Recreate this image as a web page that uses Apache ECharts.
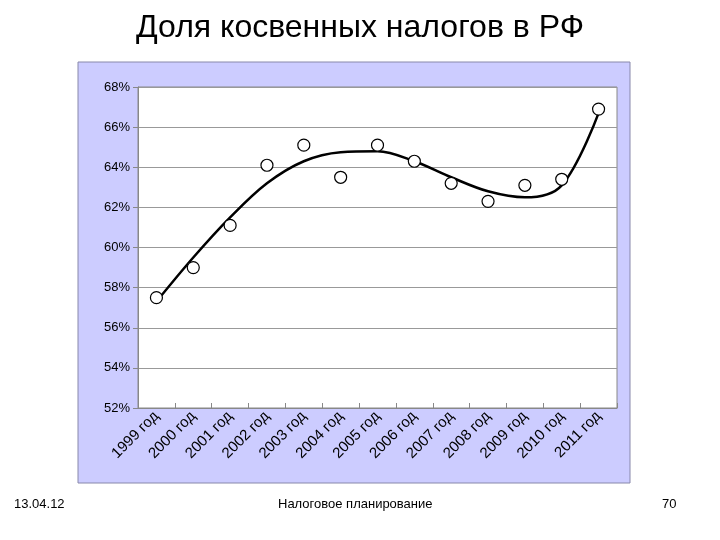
<!DOCTYPE html>
<html><head><meta charset="utf-8">
<script src="https://cdn.jsdelivr.net/npm/echarts@6/dist/echarts.min.js"></script>
<style>body{margin:0;background:#fff}#chart{width:720px;height:540px}</style>
</head><body><div id="chart"></div>
<script>
const years = ['1999 год','2000 год','2001 год','2002 год','2003 год','2004 год','2005 год','2006 год','2007 год','2008 год','2009 год','2010 год','2011 год'];
const shares = [57.5, 59.0, 61.1, 64.1, 65.1, 63.5, 65.1, 64.3, 63.2, 62.3, 63.1, 63.4, 66.9];
const trend = [57.3, 59.5, 61.5, 63.2, 64.3, 64.75, 64.8, 64.3, 63.5, 62.8, 62.5, 63.1, 66.7];

const chart = echarts.init(document.getElementById('chart'));
chart.setOption({
  animation: false,
  textStyle: {fontFamily: 'Liberation Sans, Arial'},
  graphic: [
    {type: 'rect', shape: {x: 78, y: 62, width: 552, height: 421}, style: {fill: '#ccccff', stroke: '#8888aa', lineWidth: 1}, z: -10},
    {type: 'text', left: 'center', top: 12, style: {text: 'Доля косвенных налогов в РФ', fontSize: 32, fill: '#000', fontFamily: 'Liberation Sans'}},
    {type: 'text', left: 14, top: 498, style: {text: '13.04.12', fontSize: 13, fill: '#000'}},
    {type: 'text', left: 278, top: 498, style: {text: 'Налоговое планирование', fontSize: 13, fill: '#000'}},
    {type: 'text', left: 662, top: 498, style: {text: '70', fontSize: 13, fill: '#000'}}
  ],
  grid: {left: 138, right: 103, top: 87, bottom: 132, backgroundColor: '#fff', show: true, borderColor: '#888', borderWidth: 1},
  xAxis: {
    type: 'category', data: years, boundaryGap: true,
    axisLine: {lineStyle: {color: '#888'}},
    axisTick: {show: true, inside: true, lineStyle: {color: '#888'}},
    axisLabel: {rotate: 45, color: '#000', fontSize: 15, interval: 0, margin: 6}
  },
  yAxis: {
    type: 'value', min: 52, max: 68, interval: 2,
    axisLine: {show: true, lineStyle: {color: '#888'}},
    axisTick: {show: true, lineStyle: {color: '#888'}},
    axisLabel: {color: '#000', fontSize: 13, formatter: v => v + '%'},
    splitLine: {lineStyle: {color: '#999'}}
  },
  series: [
    {type: 'line', data: trend, smooth: 0.35, symbol: 'none', lineStyle: {color: '#000', width: 2.5}},
    {type: 'line', data: shares, symbol: 'circle', symbolSize: 12, lineStyle: {opacity: 0},
     itemStyle: {color: '#fff', borderColor: '#000', borderWidth: 1.2}, z: 5}
  ]
});
</script></body></html>
